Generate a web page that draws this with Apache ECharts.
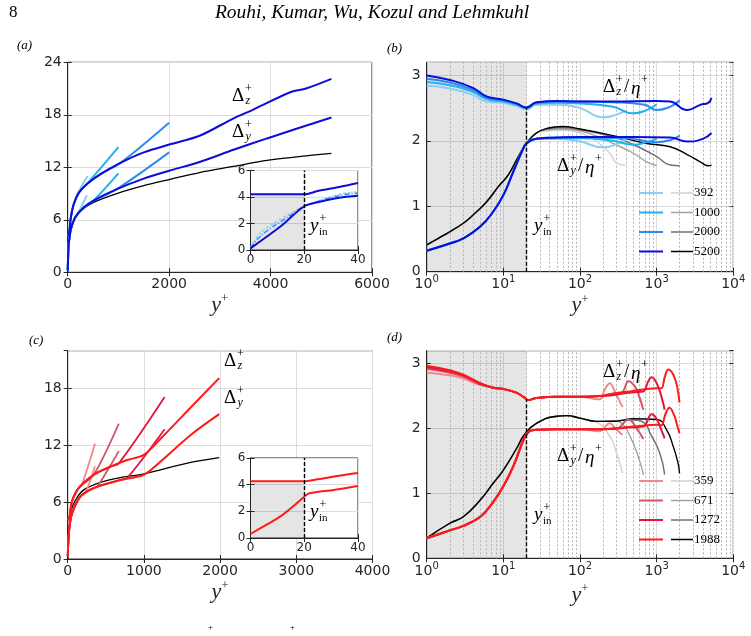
<!DOCTYPE html>
<html>
<head>
<meta charset="utf-8">
<script src="https://cdn.jsdelivr.net/npm/echarts@6/dist/echarts.min.js"></script>
<style>html,body{margin:0;padding:0;background:#fff}#chart{width:751px;height:636px}</style>
</head>
<body>
<div id="chart"></div>
<script>
// ---- panel (a): resolution vs y+, channel (blue) ----
var aDz392  = [[0,4.2],[20,4.3],[40,5.0],[60,6.2],[120,7.8],[185,8.9],[392,11.0]];
var aDz1000 = [[0,4.2],[20,4.3],[40,5.0],[60,6.2],[120,7.8],[220,9.1],[380,10.1],[1000,14.3]];
var aDz2000 = [[0,4.2],[20,4.3],[40,5.0],[60,6.2],[120,7.8],[220,9.1],[380,10.1],[640,11.2],[1040,12.5],[2000,17.1]];
var aDz5200 = [[0,4.2],[20,4.3],[40,5.0],[60,6.2],[120,7.8],[220,9.1],[380,10.1],[640,11.2],[1040,12.5],[1500,13.7],[2000,14.6],[2600,15.6],[3270,17.6],[3660,18.6],[4400,20.6],[4700,21.0],[5200,22.1]];
var aDy392  = [[0,0.2],[10,2.0],[20,3.3],[40,4.1],[60,4.9],[150,6.3],[216,6.9],[380,8.8]];
var aDy1000 = [[0,0.2],[10,2.0],[20,3.3],[40,4.1],[60,4.9],[150,6.3],[315,7.4],[510,8.2],[1000,11.3]];
var aDy2000 = [[0,0.2],[10,2.0],[20,3.3],[40,4.1],[60,4.9],[150,6.3],[315,7.4],[510,8.2],[970,9.5],[2000,13.7]];
var aDy5200 = [[0,0.2],[10,2.0],[20,3.3],[40,4.1],[60,4.9],[150,6.3],[315,7.4],[510,8.2],[970,9.5],[1500,10.7],[2000,11.6],[2600,12.6],[3270,14.0],[3930,15.3],[5200,17.7]];
var aRef    = [[0,0],[5,1.6],[15,3.0],[50,4.4],[120,5.9],[250,7.0],[510,8.0],[970,9.0],[1500,9.9],[2000,10.6],[2600,11.4],[3270,12.1],[3930,12.8],[5200,13.6]];
var aInDz   = [[0,4.2],[10,4.2],[20,4.2],[25,4.45],[33,4.75],[40,5.05]];
var aInDy   = [[0,0.12],[6,1.0],[11,1.75],[20,3.3],[25,3.6],[33,3.95],[40,4.1]];
var aInDyA  = [[0,0.2],[3.5,1.25],[8.5,2.0],[13.5,2.6],[20,3.3],[33,4.2],[40,4.4]];
var aInDyB  = [[0,0.2],[4,1.1],[9,1.85],[14,2.5],[20,3.3],[33,4.1],[40,4.3]];

// ---- panel (b): ratio to Kolmogorov scale ----
var bRe = ['392', '1000', '2000', '5200'];
var bDz392  = [[1,2.84],[2,2.8],[4,2.7],[6,2.6],[10,2.58],[15,2.53],[20,2.48],[27,2.55],[50,2.55],[100,2.5],[200,2.36],[300,2.4],[392,2.46]];
var bDz1000 = [[1,2.9],[2,2.85],[4,2.75],[6,2.64],[10,2.6],[15,2.55],[20,2.5],[27,2.57],[50,2.58],[100,2.57],[270,2.52],[490,2.42],[740,2.47],[1000,2.56]];
var bDz2000 = [[1,2.95],[2,2.89],[4,2.78],[6,2.66],[10,2.62],[15,2.56],[20,2.51],[27,2.58],[50,2.6],[100,2.6],[270,2.59],[700,2.55],[1000,2.47],[1500,2.52],[2000,2.62]];
var bDz5200 = [[1,3.0],[2,2.93],[4,2.81],[6,2.68],[10,2.63],[15,2.57],[20,2.51],[27,2.59],[50,2.61],[100,2.6],[270,2.6],[1000,2.61],[1500,2.6],[2500,2.47],[3700,2.55],[4700,2.58],[5200,2.66]];
var bDyWall = [[1,0.32],[2,0.43],[3,0.51],[5,0.69],[7.4,0.92],[10,1.17],[13.5,1.53],[18.3,1.89],[20,1.96],[27,2.03]];
var bDy392  = bDyWall.concat([[50,2.03],[100,1.99],[200,1.9],[300,1.95],[392,2.02]]);
var bDy1000 = bDyWall.concat([[50,2.04],[100,2.04],[270,2.0],[500,1.94],[740,1.98],[1000,2.03]]);
var bDy2000 = bDyWall.concat([[50,2.05],[100,2.05],[400,2.04],[1000,1.98],[1500,2.01],[2000,2.08]]);
var bDy5200 = bDyWall.concat([[50,2.05],[100,2.06],[500,2.06],[1500,2.05],[2500,1.99],[4000,2.03],[5200,2.12]]);
var bGWall  = [[1,0.41],[1.42,0.51],[2,0.61],[3,0.74],[4.06,0.87],[6.06,1.07],[8.6,1.3],[11.6,1.48],[15.7,1.76],[20,1.96],[27,2.12]];
var bG392   = bGWall.concat([[37,2.15],[58,2.16],[100,2.12],[165,1.99],[245,1.81],[300,1.66],[392,1.63]]);
var bG1000  = bGWall.concat([[37,2.17],[58,2.18],[100,2.15],[165,2.07],[270,1.96],[500,1.81],[740,1.68],[1000,1.62]]);
var bG2000  = bGWall.concat([[37,2.18],[58,2.2],[100,2.17],[270,2.06],[500,1.94],[1000,1.76],[1500,1.63],[2000,1.62]]);
var bG5200  = bGWall.concat([[37,2.19],[58,2.22],[100,2.18],[270,2.08],[740,1.96],[1500,1.91],[2500,1.79],[3700,1.68],[4700,1.62],[5200,1.63]]);

// ---- panel (c): pipe (red) ----
var cDz359  = [[0,4.2],[13,4.2],[57,6.1],[145,7.5],[189,7.9],[359,12.2]];
var cDz671  = [[0,4.2],[13,4.2],[57,6.1],[145,7.5],[342,8.9],[671,14.3]];
var cDz1272 = [[0,4.2],[13,4.2],[57,6.1],[145,7.5],[342,8.9],[561,9.75],[671,10.1],[1272,17.1]];
var cDz1988 = [[0,4.2],[13,4.2],[57,6.1],[145,7.5],[342,8.9],[561,9.75],[781,10.45],[1000,11.0],[1219,12.7],[1614,16.0],[1988,19.1]];
var cDy359  = [[0,0.3],[20,3.1],[57,4.8],[167,6.6],[232,7.0],[359,9.8]];
var cDy671  = [[0,0.3],[20,3.1],[57,4.8],[167,6.6],[342,7.5],[386,7.6],[671,11.4]];
var cDy1272 = [[0,0.3],[20,3.1],[57,4.8],[167,6.6],[342,7.5],[693,8.35],[781,8.55],[1272,13.7]];
var cDy1988 = [[0,0.3],[20,3.1],[57,4.8],[167,6.6],[342,7.5],[693,8.35],[1000,8.9],[1219,10.3],[1614,13.1],[1988,15.3]];
var cRef    = [[0,0],[13,2.0],[35,4.8],[101,6.2],[210,7.3],[430,8.1],[693,8.6],[1000,9.0],[1614,10.2],[1988,10.7]];
var cInDz   = [[0,4.25],[20,4.25],[25,4.4],[33,4.67],[40,4.87]];
var cInDy   = [[0,0.3],[6,1.0],[11,1.6],[16,2.4],[20,3.1],[22,3.35],[31,3.6],[40,3.9]];

// ---- panel (d) ----
var dRe = ['359', '671', '1272', '1988'];
var dZWall  = [[7.4,2.63],[10,2.61],[15,2.55],[18.7,2.48],[21,2.44],[27,2.47],[50,2.49],[100,2.49]];
var dZ359   = [[1,2.86],[2,2.82],[3,2.77],[5,2.67]].concat(dZWall, [[180,2.45],[210,2.6],[245,2.7],[290,2.55],[359,2.33]]);
var dZ671   = [[1,2.92],[2,2.86],[3,2.8],[5,2.68]].concat(dZWall, [[180,2.5],[300,2.52],[360,2.56],[430,2.73],[520,2.65],[590,2.5],[671,2.29]]);
var dZ1272  = [[1,2.95],[2,2.88],[3,2.82],[5,2.69]].concat(dZWall, [[180,2.5],[500,2.56],[670,2.57],[770,2.72],[860,2.79],[1000,2.7],[1150,2.5],[1272,2.29]]);
var dZ1988  = [[1,2.97],[2,2.9],[3,2.83],[5,2.7]].concat(dZWall, [[180,2.5],[270,2.54],[500,2.58],[740,2.61],[1000,2.62],[1150,2.62],[1280,2.8],[1420,2.91],[1650,2.83],[1850,2.65],[1988,2.4]]);
var dYWall  = [[1,0.31],[2,0.43],[3,0.5],[5,0.64],[7.4,0.87],[10,1.11],[13.5,1.42],[18.7,1.85],[22,1.96],[27,1.98],[50,1.99],[100,1.99]];
var dY359   = dYWall.concat([[180,1.96],[245,2.08],[290,2.0],[359,1.9]]);
var dY671   = dYWall.concat([[180,1.99],[300,2.0],[430,2.14],[550,2.0],[671,1.84]]);
var dY1272  = dYWall.concat([[180,1.99],[500,2.02],[670,2.03],[860,2.22],[1000,2.15],[1150,1.98],[1272,1.85]]);
var dY1988  = dYWall.concat([[180,1.99],[500,2.03],[1000,2.06],[1150,2.05],[1300,2.22],[1470,2.32],[1700,2.2],[1850,2.05],[1988,1.93]]);
var dGWall  = [[1,0.31],[2,0.54],[3,0.64],[5,0.9],[7.4,1.16],[10,1.36],[15,1.7],[18.7,1.9],[27,2.08],[50,2.19],[67,2.2],[100,2.16]];
var dG359   = dGWall.concat([[165,2.1],[245,1.88],[300,1.62],[359,1.31]]);
var dG671   = dGWall.concat([[165,2.11],[270,2.12],[350,2.08],[450,1.88],[575,1.57],[671,1.29]]);
var dG1272  = dGWall.concat([[165,2.11],[270,2.12],[500,2.13],[700,2.08],[820,1.93],[1100,1.62],[1272,1.29]]);
var dG1988  = dGWall.concat([[165,2.11],[270,2.11],[500,2.15],[1000,2.14],[1350,1.98],[1650,1.72],[1900,1.47],[1988,1.31]]);

var minorX = [2,3,4,5,6,7,8,9,20,30,40,50,60,70,80,90,200,300,400,500,600,700,800,900,2000,3000,4000,5000,6000,7000,8000,9000];

var blues = ['#8ecdf3', '#1fb2ee', '#2d8bf0', '#0d0dd6'];
var reds  = ['#f08a8a', '#d05866', '#e3143f', '#ff1a1a'];
var grays = ['#d0d0d0', '#a2a2a2', '#707070', '#000000'];

var TXT = '#262626', SANS = 'DejaVu Sans', SERIF = 'Liberation Serif';

var chart = echarts.init(document.getElementById('chart'));

function box(l, t, w, h, z, bg) {
    return {left: l, top: t, width: w, height: h, show: true, borderColor: TXT, borderWidth: 1,
            backgroundColor: bg || 'transparent', z: z || 0};
}

function yPlus(gap) {
    return {
        name: '{y|y}{s|+}', nameLocation: 'middle', nameGap: gap,
        nameTextStyle: {rich: {
            y: {fontFamily: SERIF, fontStyle: 'italic', fontSize: 22, lineHeight: 26, color: TXT},
            s: {fontFamily: SERIF, fontSize: 13, lineHeight: 13, verticalAlign: 'top', color: TXT}
        }}
    };
}

function linAxis(gi, min, max, step, fs, opt) {
    opt = opt || {};
    var ax = {
        type: 'value', gridIndex: gi, min: min, max: max, interval: step, z: opt.z || 0,
        axisLine: {show: true, onZero: false, lineStyle: {color: TXT, width: 1}},
        axisTick: {show: true, inside: true, length: 4, lineStyle: {color: TXT}},
        axisLabel: {color: TXT, fontFamily: SANS, fontSize: fs, margin: opt.margin || 5,
                    showMaxLabel: opt.hideMax ? false : true,
                    formatter: function (v) { return String(v); }},
        splitLine: {show: true, lineStyle: {color: '#dcdcdc', width: 1}}
    };
    if (opt.gap) Object.assign(ax, yPlus(opt.gap));
    return ax;
}

function logAxis(gi, gap) {
    return Object.assign({
        type: 'log', logBase: 10, gridIndex: gi, min: 1, max: 10000,
        axisLine: {show: true, onZero: false, lineStyle: {color: TXT, width: 1}},
        axisTick: {show: true, inside: true, length: 4, lineStyle: {color: TXT}},
        axisLabel: {
            margin: 3,
            formatter: function (v) { return '{b|10}{s|' + Math.round(Math.log(v) / Math.LN10) + '}'; },
            rich: {
                b: {fontFamily: SANS, fontSize: 14, color: TXT, lineHeight: 20},
                s: {fontFamily: SANS, fontSize: 10, color: TXT, lineHeight: 10, verticalAlign: 'top'}
            }
        },
        splitLine: {show: true, lineStyle: {color: '#dcdcdc', width: 1}}
    }, yPlus(gap));
}

// tick-only copies on the top / right edge of each box
function mirror(gi, pos, type, min, max, step, z) {
    var ax = {type: type, gridIndex: gi, position: pos, min: min, max: max, z: z || 0,
              axisLine: {show: false}, axisLabel: {show: false}, splitLine: {show: false},
              axisTick: {show: true, inside: true, length: 4, lineStyle: {color: TXT}}};
    if (type === 'value') ax.interval = step;
    return ax;
}

function ln(ax, data, color, width, z, dash, sm) {
    return {type: 'line', xAxisIndex: ax, yAxisIndex: ax, data: data, symbol: 'none', smooth: sm || 0.3,
            silent: true, animation: false, z: z || 2,
            lineStyle: {color: color, width: width, type: dash || 'solid'}};
}

function shade(ax, area, z) {
    return {type: 'line', xAxisIndex: ax, yAxisIndex: ax, data: [], z: z || 1, silent: true, animation: false,
            markArea: {silent: true, z: z || 1, itemStyle: {color: 'rgba(0,0,0,0.1)'}, data: [area]}};
}

function vline(ax, x, y0, y1, z) {
    return {type: 'line', xAxisIndex: ax, yAxisIndex: ax, data: [], z: z || 3, silent: true, animation: false,
            markLine: {silent: true, z: z || 3, symbol: ['none', 'none'], label: {show: false}, animation: false,
                       lineStyle: {color: '#000', width: 1.4, type: [4, 2]},
                       data: [[{coord: [x, y0]}, {coord: [x, y1]}]]}};
}

function minorGrid(ax) {
    return {type: 'line', xAxisIndex: ax, yAxisIndex: ax, data: [], z: 1, silent: true, animation: false,
            markLine: {silent: true, z: 1, symbol: ['none', 'none'], label: {show: false}, animation: false,
                       lineStyle: {color: '#b4b4b4', width: 1, type: [2, 2]},
                       data: minorX.map(function (v) { return {xAxis: v}; })}};
}

var series = [
    // (a)
    ln(0, aRef, '#000', 1.3),
    ln(0, aDz392, blues[0], 2), ln(0, aDy392, blues[0], 2),
    ln(0, aDz1000, blues[1], 2), ln(0, aDy1000, blues[1], 2),
    ln(0, aDz2000, blues[2], 2), ln(0, aDy2000, blues[2], 2),
    ln(0, aDz5200, blues[3], 2), ln(0, aDy5200, blues[3], 2),
    // inset (a)
    shade(4, [{xAxis: 0, yAxis: 0}, {xAxis: 20, yAxis: 4.15}], 6),
    vline(4, 20, 0, 6, 9),
    ln(4, aInDyA, blues[0], 1.5, 7, [3, 2]),
    ln(4, aInDyB, blues[2], 1.5, 7, [5, 2, 1, 2]),
    ln(4, aInDz, blues[3], 2, 7), ln(4, aInDy, blues[3], 2, 7),
    // (b)
    shade(1, [{xAxis: 1}, {xAxis: 20}]), minorGrid(1), vline(1, 20, 0, 2.5),
    ln(1, bG392, grays[0], 1.4, 2, null, 0.5), ln(1, bG1000, grays[1], 1.4, 2, null, 0.5),
    ln(1, bG2000, grays[2], 1.4, 2, null, 0.5), ln(1, bG5200, grays[3], 1.4, 2, null, 0.5),
    ln(1, bDz392, blues[0], 2, 2, null, 0.5), ln(1, bDy392, blues[0], 2, 2, null, 0.5),
    ln(1, bDz1000, blues[1], 2, 2, null, 0.5), ln(1, bDy1000, blues[1], 2, 2, null, 0.5),
    ln(1, bDz2000, blues[2], 2, 2, null, 0.5), ln(1, bDy2000, blues[2], 2, 2, null, 0.5),
    ln(1, bDz5200, blues[3], 2, 2, null, 0.5), ln(1, bDy5200, blues[3], 2, 2, null, 0.5),
    // (c)
    ln(2, cRef, '#000', 1.3),
    ln(2, cDz359, reds[0], 1.8), ln(2, cDy359, reds[0], 1.8),
    ln(2, cDz671, reds[1], 1.8), ln(2, cDy671, reds[1], 1.8),
    ln(2, cDz1272, reds[2], 1.8), ln(2, cDy1272, reds[2], 1.8),
    ln(2, cDz1988, reds[3], 2), ln(2, cDy1988, reds[3], 2),
    // inset (c)
    shade(5, [{xAxis: 0, yAxis: 0}, {xAxis: 20, yAxis: 4.15}], 6),
    vline(5, 20, 0, 6, 9),
    ln(5, cInDz, reds[3], 2, 7), ln(5, cInDy, reds[3], 2, 7),
    // (d)
    shade(3, [{xAxis: 1}, {xAxis: 20}]), minorGrid(3), vline(3, 20, 0, 2.45),
    ln(3, dG359, grays[0], 1.4, 2, null, 0.5), ln(3, dG671, grays[1], 1.4, 2, null, 0.5),
    ln(3, dG1272, grays[2], 1.4, 2, null, 0.5), ln(3, dG1988, grays[3], 1.4, 2, null, 0.5),
    ln(3, dZ359, reds[0], 2, 2, null, 0.4), ln(3, dY359, reds[0], 2, 2, null, 0.4),
    ln(3, dZ671, reds[1], 2, 2, null, 0.4), ln(3, dY671, reds[1], 2, 2, null, 0.4),
    ln(3, dZ1272, reds[2], 2, 2, null, 0.4), ln(3, dY1272, reds[2], 2, 2, null, 0.4),
    ln(3, dZ1988, reds[3], 2, 2, null, 0.4), ln(3, dY1988, reds[3], 2, 2, null, 0.4)
];

// ---- text overlays ----
function t(x, y, text, size, style, align, fam) {
    return {type: 'text', z: 20, silent: true, style: {
        x: x, y: y, text: text, fill: '#000', textAlign: align || 'left', textVerticalAlign: 'middle',
        font: (style || 'normal') + ' ' + size + 'px "' + (fam || SERIF) + '"'}};
}
function delta(x, y, sub, eta) {
    var els = [t(x, y, '\u0394', 19), t(x + 13, y - 7, '+', 12), t(x + 13.5, y + 5, sub, 12, 'italic')];
    if (eta) els.push(t(x + 21, y, '/', 19), t(x + 28, y + 2, '\u03b7', 19, 'italic'), t(x + 38, y - 7, '+', 12));
    return els;
}
function yin(x, y) {
    return [t(x, y, 'y', 19, 'italic'), t(x + 9.5, y - 7, '+', 12), t(x + 9, y + 6, 'in', 11)];
}
function legend(x, y0, cols, labels) {
    var els = [];
    for (var i = 0; i < labels.length; i++) {
        var y = y0 + i * 19.5;
        els.push({type: 'line', z: 20, silent: true, shape: {x1: x, y1: y, x2: x + 24, y2: y}, style: {stroke: cols[i], lineWidth: 2}});
        els.push({type: 'line', z: 20, silent: true, shape: {x1: x + 32, y1: y, x2: x + 54, y2: y}, style: {stroke: grays[i], lineWidth: 1.5}});
        els.push(t(x + 55, y, labels[i], 13));
    }
    return els;
}

var graphics = [].concat(
    [t(9, 13, '8', 17), t(372, 13, 'Rouhi, Kumar, Wu, Kozul and Lehmkuhl', 19.5, 'italic', 'center')],
    [t(17, 46, '(a)', 13, 'italic'), t(387, 49, '(b)', 13, 'italic'), t(29, 341, '(c)', 13, 'italic'), t(387, 338, '(d)', 13, 'italic')],
    delta(232, 96, 'z'), delta(232, 132, 'y'),
    delta(224, 361, 'z'), delta(224, 398, 'y'),
    delta(603, 87, 'z', true), delta(557, 166, 'y', true),
    delta(603, 372, 'z', true), delta(557, 456, 'y', true),
    yin(534, 226), yin(534, 515), yin(310, 226), yin(310, 512),
    legend(639, 193, blues, bRe), legend(639, 481, reds, dRe),
    [t(208, 628, '+', 9), t(290, 628, '+', 9)]
);

chart.setOption({
    animation: false,
    backgroundColor: '#fff',
    grid: [
        box(67.7, 62.3, 304.3, 210),
        box(426.7, 62.3, 306.6, 209.4),
        box(67.7, 350.7, 304.8, 208.3),
        box(426.7, 350.7, 306.6, 207.6),
        box(250.5, 170.5, 107.5, 79.5, 5, '#fff'),
        box(250.5, 458, 107.5, 80, 5, '#fff')
    ],
    xAxis: [
        linAxis(0, 0, 6000, 2000, 14, {gap: 12}),
        logAxis(1, 20),
        linAxis(2, 0, 4000, 1000, 14, {gap: 20}),
        logAxis(3, 24),
        linAxis(4, 0, 40, 20, 12, {z: 6, margin: 4}),
        linAxis(5, 0, 40, 20, 12, {z: 6, margin: 4}),
        mirror(0, 'top', 'value', 0, 6000, 2000),
        mirror(1, 'top', 'log', 1, 10000),
        mirror(2, 'top', 'value', 0, 4000, 1000),
        mirror(3, 'top', 'log', 1, 10000),
        mirror(4, 'top', 'value', 0, 40, 20, 6),
        mirror(5, 'top', 'value', 0, 40, 20, 6)
    ],
    yAxis: [
        linAxis(0, 0, 24, 6, 14, {margin: 6}),
        linAxis(1, 0, 3.2, 1, 14, {margin: 6, hideMax: true}),
        linAxis(2, 0, 22, 6, 14, {margin: 6, hideMax: true}),
        linAxis(3, 0, 3.2, 1, 14, {margin: 6, hideMax: true}),
        linAxis(4, 0, 6, 2, 12, {z: 6, margin: 5}),
        linAxis(5, 0, 6, 2, 12, {z: 6, margin: 5}),
        mirror(0, 'right', 'value', 0, 24, 6),
        mirror(1, 'right', 'value', 0, 3.2, 1),
        mirror(2, 'right', 'value', 0, 22, 6),
        mirror(3, 'right', 'value', 0, 3.2, 1),
        mirror(4, 'right', 'value', 0, 6, 2, 6),
        mirror(5, 'right', 'value', 0, 6, 2, 6)
    ],
    series: series,
    graphic: graphics
});
</script>
</body>
</html>
